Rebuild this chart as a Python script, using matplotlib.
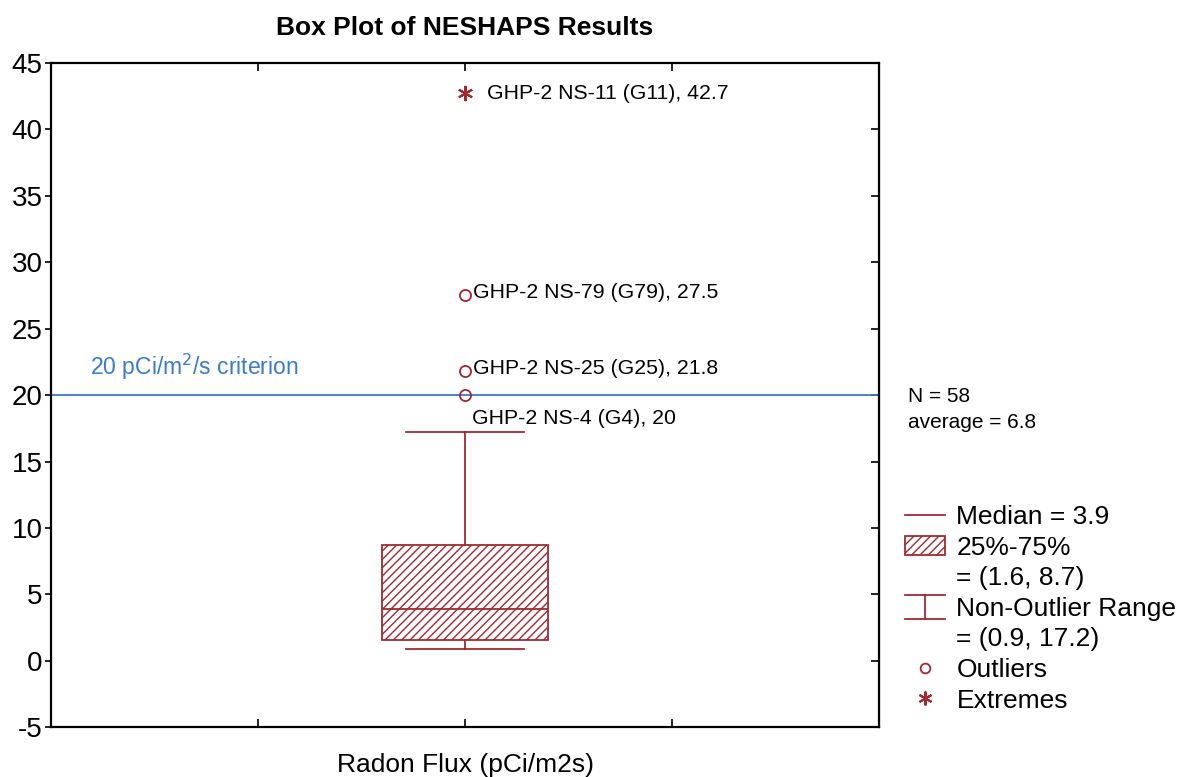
import matplotlib.pyplot as plt
from matplotlib.lines import Line2D
from matplotlib.patches import Patch
from matplotlib.legend_handler import HandlerBase

# box plot summary (pCi/m2s)
label = 'Radon Flux (pCi/m2s)'
median = 3.9
q1, q3 = 1.6, 8.7
whis_lo, whis_hi = 0.9, 17.2
n_samples = 58
average = 6.8
criterion = 20

outlier_names = ['GHP-2 NS-79 (G79), 27.5', 'GHP-2 NS-25 (G25), 21.8', 'GHP-2 NS-4 (G4), 20']
outlier_values = [27.5, 21.8, 20.0]
extreme_names = ['GHP-2 NS-11 (G11), 42.7']
extreme_values = [42.7]

red = '#a02a30'
blue = '#3a7bd0'

plt.rcParams['font.family'] = ['Liberation Sans', 'DejaVu Sans']
plt.rcParams['axes.unicode_minus'] = False
plt.rcParams['hatch.color'] = red
plt.rcParams['hatch.linewidth'] = 1.0


class RangeHandler(HandlerBase):
    # the "I" shaped whisker symbol of the legend
    def create_artists(self, legend, orig_handle, xdescent, ydescent,
                       width, height, fontsize, trans):
        x0, x1 = -xdescent, -xdescent + width
        xm = (x0 + x1) / 2
        y0, y1 = -ydescent - 0.15 * height, -ydescent + 1.15 * height
        kw = dict(color=red, lw=1.3, transform=trans)
        return [Line2D([x0, x1], [y1, y1], **kw),
                Line2D([x0, x1], [y0, y0], **kw),
                Line2D([xm, xm], [y0, y1], **kw)]


fig = plt.figure(figsize=(11.87, 7.77), dpi=100)
ax = fig.add_axes([0.043, 0.064, 0.6975, 0.855])

stats = [dict(med=median, q1=q1, q3=q3, whislo=whis_lo, whishi=whis_hi, fliers=[])]
ax.bxp(stats, positions=[2], widths=0.8, capwidths=0.57, patch_artist=True,
       boxprops=dict(facecolor='white', edgecolor=red, hatch='////', lw=1.3),
       medianprops=dict(color=red, lw=1.3),
       whiskerprops=dict(color=red, lw=1.3),
       capprops=dict(color=red, lw=1.3),
       manage_ticks=False)

ax.plot([2] * len(outlier_values), outlier_values, 'o', ms=8, mfc='none',
        mec=red, mew=1.3, zorder=4)
ax.plot([2] * len(extreme_values), extreme_values, marker=(6, 2, 0), ls='none',
        ms=11, color=red, mew=1.5, zorder=4)

for name, v in zip(extreme_names, extreme_values):
    ax.annotate(name, (2, v), xytext=(16, 0), textcoords='offset points',
                va='center', fontsize=15.3)
for name, v in zip(outlier_names[:2], outlier_values[:2]):
    ax.annotate(name, (2, v), xytext=(6, 2), textcoords='offset points',
                va='center', fontsize=15.3)
ax.annotate(outlier_names[2], (2, outlier_values[2]), xytext=(5, -17),
            textcoords='offset points', va='center', fontsize=15.3)

ax.axhline(criterion, color=blue, lw=1.3, zorder=1)
ax.text(0.19, 22.1, '20 pCi/m$^2$/s criterion', color=blue, fontsize=16.5,
        va='center')

ax.set_xlim(0, 4)
ax.set_ylim(-5, 45)
ax.set_yticks(range(-5, 46, 5))
ax.set_xticks([1, 2, 3])
ax.set_xticklabels([])
ax.tick_params(axis='y', labelsize=20, direction='out', length=4, width=1.2, pad=2)
ax.tick_params(axis='x', direction='in', length=6, width=1.2, top=True)
for s in ax.spines.values():
    s.set_linewidth(1.6)
# right ticks point inwards
ax2 = ax.secondary_yaxis('right')
ax2.set_ticks(range(-5, 46, 5))
ax2.tick_params(direction='in', length=6, width=1.2, labelright=False)
ax.set_xlabel(label, fontsize=19, labelpad=15)
ax.set_title('Box Plot of NESHAPS Results', fontsize=19, fontweight='bold', pad=20)

fig.text(908 / 1187, 1 - 397 / 777, 'N = %d' % n_samples, fontsize=15, va='center')
fig.text(908 / 1187, 1 - 423 / 777, 'average = %.1f' % average, fontsize=15, va='center')

blank = Line2D([], [], alpha=0)
range_handle = Line2D([], [], color=red)
handles = [Line2D([], [], color=red, lw=1.3),
           Patch(facecolor='white', edgecolor=red, hatch='////', lw=1.3),
           blank,
           range_handle,
           blank,
           Line2D([], [], marker='o', ls='none', mfc='none', mec=red, ms=7, mew=1.3),
           Line2D([], [], marker=(6, 2, 0), ls='none', color=red, ms=10, mew=1.5)]
labels = ['Median = %.1f' % median, '25%-75%', '= (%.1f, %.1f)' % (q1, q3),
          'Non-Outlier Range', '= (%.1f, %.1f)' % (whis_lo, whis_hi),
          'Outliers', 'Extremes']
fig.legend(handles, labels, loc='upper left', bbox_to_anchor=(905 / 1187, 1 - 505 / 777),
           frameon=False, fontsize=19, borderpad=0, borderaxespad=0,
           handlelength=1.5, handletextpad=0.45, labelspacing=0.25,
           handler_map={range_handle: RangeHandler()})

fig.savefig('out.png', dpi=100)
